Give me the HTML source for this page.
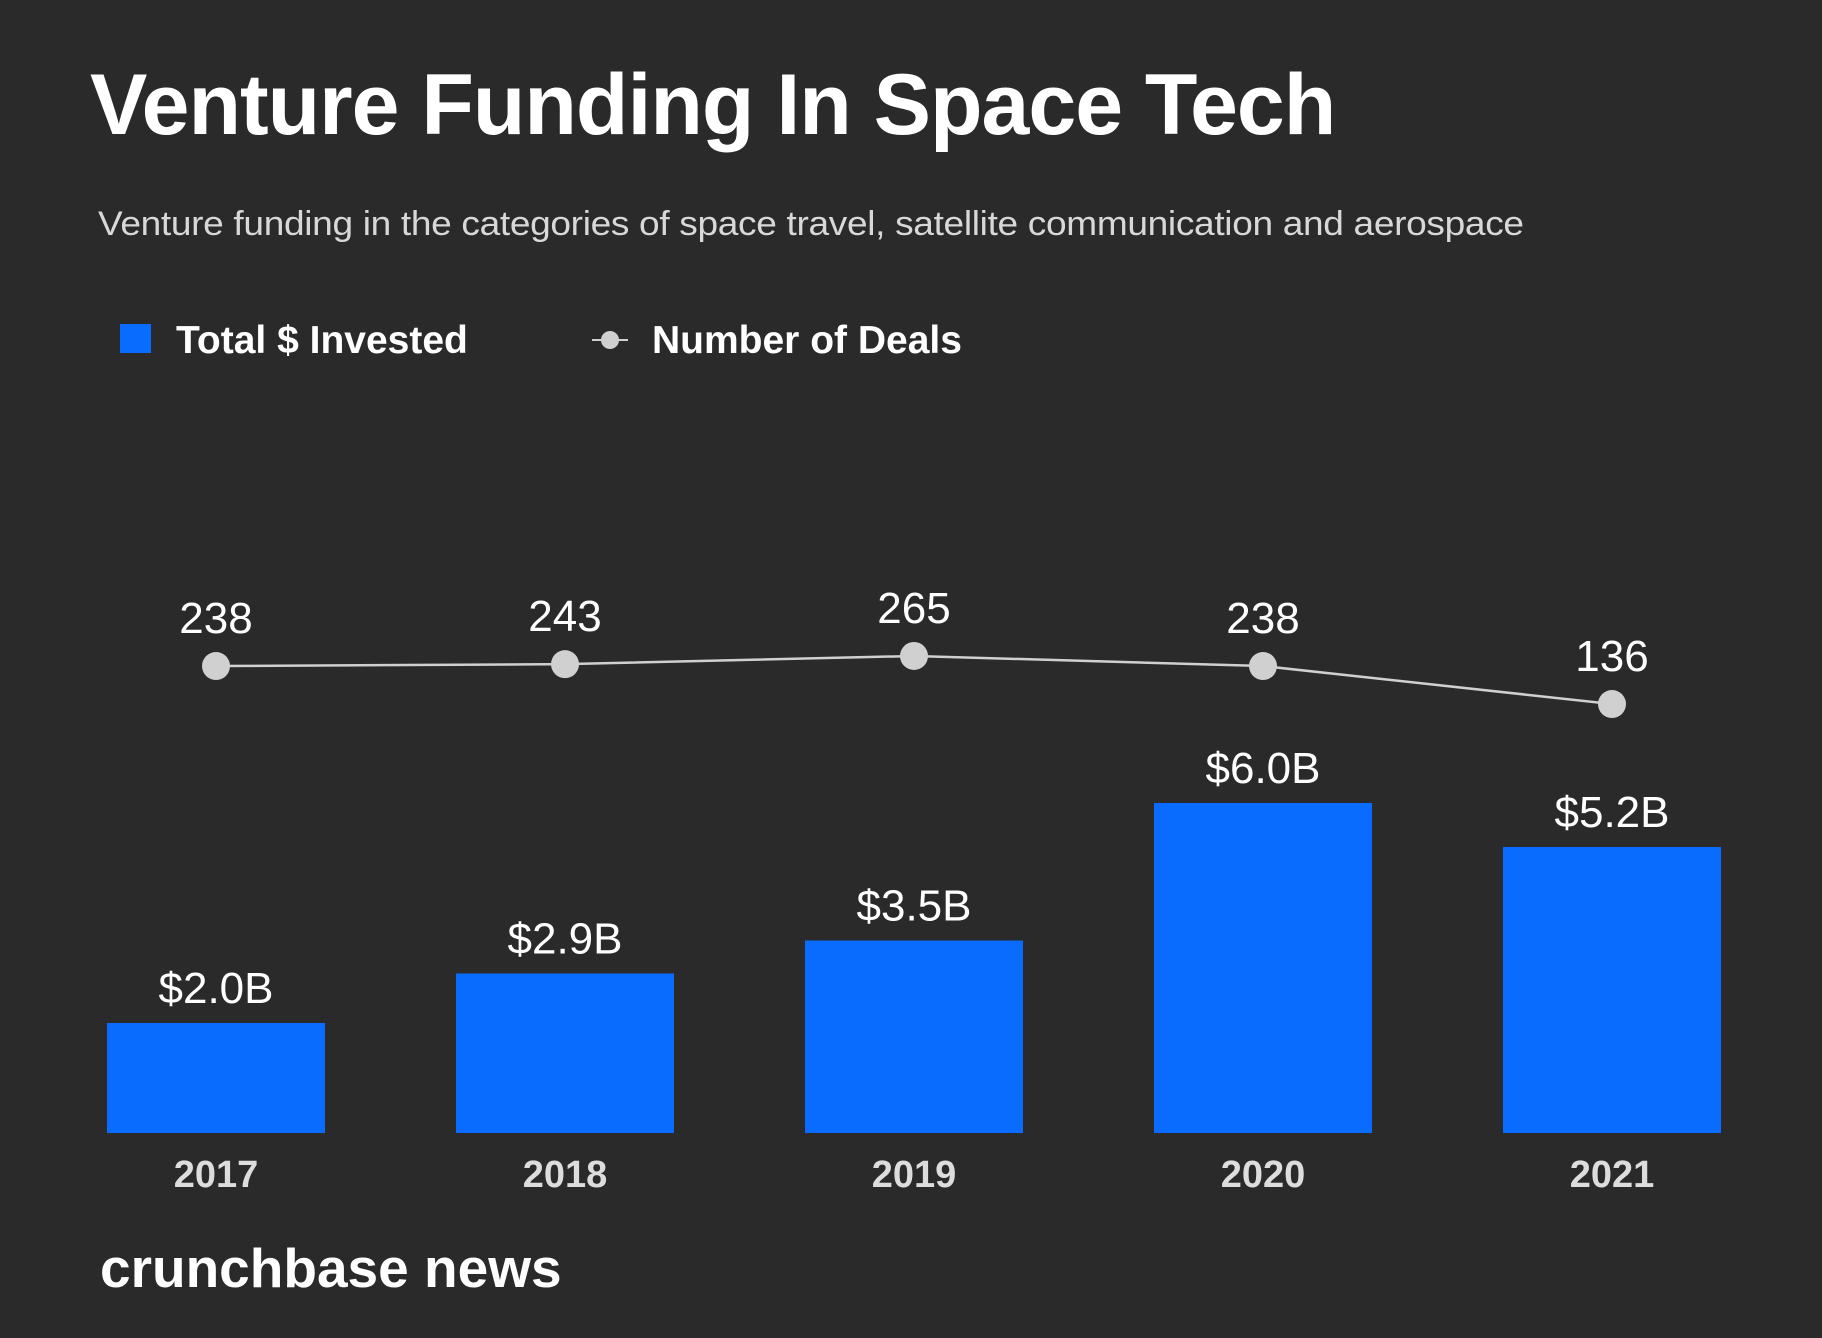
<!DOCTYPE html>
<html><head><meta charset="utf-8"><style>
html,body{margin:0;padding:0;background:#2a2a2a;}
body{width:1822px;height:1338px;position:relative;overflow:hidden;font-family:"Liberation Sans",sans-serif;color:#fff;}
.t{position:absolute;white-space:nowrap;}
</style></head><body>
<div class="t" style="left:90px;top:56px;font-size:86px;font-weight:bold;letter-spacing:-1px;">Venture Funding In Space Tech</div>
<div class="t" style="left:98px;top:205px;font-size:34px;color:#d8d8d8;letter-spacing:-0.3px;transform:scaleX(1.09);transform-origin:0 0;">Venture funding in the categories of space travel, satellite communication and aerospace</div>
<div>
<div style="position:absolute;left:120px;top:324px;width:31px;height:29px;background:#0a6cff;"></div>
<div class="t" style="left:176px;top:319px;font-size:39px;font-weight:bold;">Total $ Invested</div>
</div>
<div>
<svg style="position:absolute;left:590px;top:325px" width="40" height="30"><line x1="2" y1="15" x2="38" y2="15" stroke="#d0d0d0" stroke-width="2"/><circle cx="20" cy="15" r="9" fill="#d0d0d0"/></svg>
<div class="t" style="left:652px;top:319px;font-size:39px;font-weight:bold;">Number of Deals</div>
</div>
<svg id="chart" style="position:absolute;left:0;top:0" width="1822" height="1338"></svg>
<div class="t" style="left:100px;top:1236px;font-size:55px;font-weight:bold;letter-spacing:0px;">crunchbase news</div>
<script>
const years=["2017","2018","2019","2020","2021"];
const invested=[2.0,2.9,3.5,6.0,5.2];
const investedLabels=["$2.0B","$2.9B","$3.5B","$6.0B","$5.2B"];
const deals=[238,243,265,238,136];
const NS="http://www.w3.org/2000/svg";
const svg=document.getElementById('chart');
const xC=i=>216+i*349;
const yBar=v=>1133-v*55;
const yDeal=v=>754.7-v*0.3725;
function mk(tag,attrs,parent){const e=document.createElementNS(NS,tag);for(const k in attrs)e.setAttribute(k,attrs[k]);(parent||svg).appendChild(e);return e;}
years.forEach((y,i)=>{
 const r=mk('rect',{x:xC(i)-109,y:yBar(invested[i]),width:218,height:1133-yBar(invested[i]),fill:'#0a6cff'});
 
 
 const t=mk('text',{x:xC(i),y:yBar(invested[i])-20,'text-anchor':'middle','font-size':44,fill:'#fff','font-family':'Liberation Sans, sans-serif'});
 t.textContent=investedLabels[i];
 
 
 const yl=mk('text',{x:xC(i),y:1187,'text-anchor':'middle','font-size':38,'font-weight':'bold',fill:'#dddddd','font-family':'Liberation Sans, sans-serif'});
 yl.textContent=y;
 
 
});
const pts=deals.map((d,i)=>xC(i)+','+yDeal(d)).join(' ');
const pl=mk('polyline',{points:pts,fill:'none',stroke:'#d0d0d0','stroke-width':2.5});


deals.forEach((d,i)=>{
 const c=mk('circle',{cx:xC(i),cy:yDeal(d),r:14,fill:'#d0d0d0'});
 
 
 const t=mk('text',{x:xC(i),y:yDeal(d)-33,'text-anchor':'middle','font-size':44,fill:'#fff','font-family':'Liberation Sans, sans-serif'});
 t.textContent=d;
 
 
});
</script>
</body></html>
